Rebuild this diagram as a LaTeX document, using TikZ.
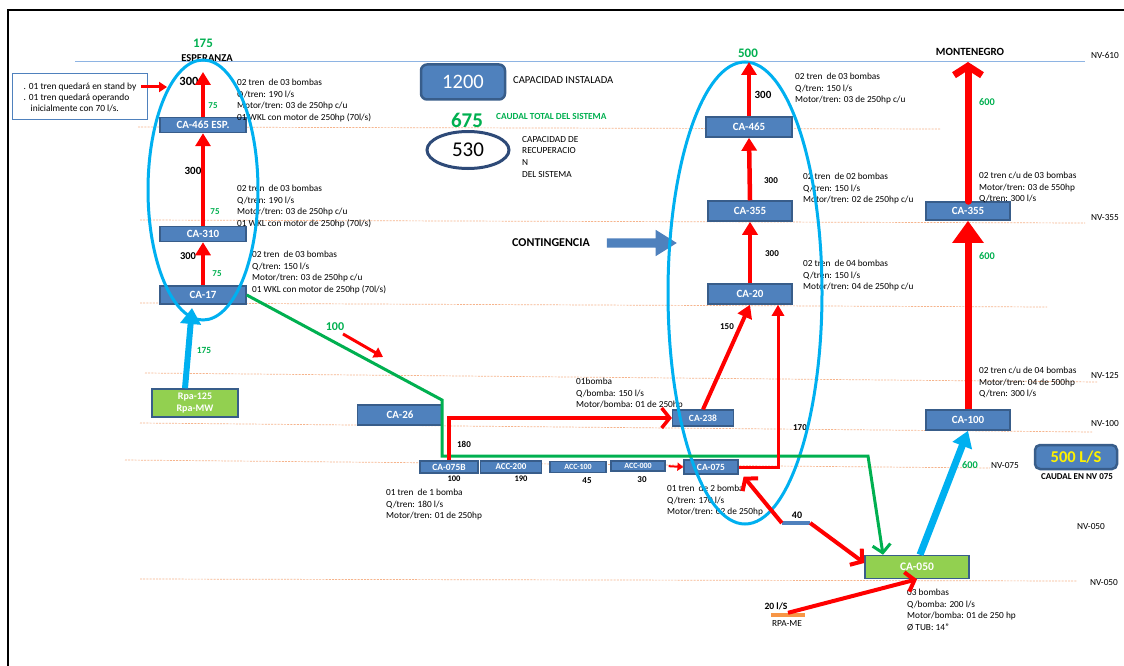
\documentclass[tikz,border=0pt]{standalone}
\usepackage{fontspec}
\setmainfont{Carlito}
\usepackage{xcolor}
\usepackage{tikz}
\usetikzlibrary{arrows.meta, positioning, shapes.geometric, shapes.arrows}

\definecolor{cabox}{HTML}{4F81BD}
\definecolor{caedge}{HTML}{385D8A}
\definecolor{ringcyan}{HTML}{00B0F0}
\definecolor{qgreen}{HTML}{00B050}
\definecolor{limebox}{HTML}{92D050}
\definecolor{lvlorange}{HTML}{F6B48C}
\definecolor{nvblue}{HTML}{8EB4E3}
\definecolor{navyring}{HTML}{2E4A78}
\definecolor{rpaorange}{HTML}{F79646}

\begin{document}
\begin{tikzpicture}[x=1pt, y=-1pt,
    sta/.style={draw=caedge, fill=cabox, line width=1.5pt, text=white,
      font=\bfseries\fontsize{11}{12}\selectfont, inner sep=0pt,
      minimum width=86pt, minimum height=16pt},
    smallsta/.style={sta, line width=1.2pt, font=\bfseries\fontsize{9.5}{10}\selectfont},
    info/.style={anchor=north west, align=left, inner sep=0pt,
      font=\fontsize{9.3}{11.5}\selectfont},
    qty/.style={inner sep=0pt, font=\bfseries\fontsize{9}{10}\selectfont},
    gqty/.style={inner sep=0pt, text=qgreen, font=\bfseries\fontsize{9}{10}\selectfont},
    nv/.style={inner sep=0pt, font=\fontsize{9.3}{10}\selectfont},
    lvl/.style={lvlorange, line width=0.7pt, dash pattern=on 2pt off 1.2pt},
    pipe/.style={red, line width=4.5pt, -{Triangle[length=13pt,width=15pt]}},
    barb/.style={red, line width=4pt, -{Straight Barb[length=8pt,width=20pt]}},
    ring/.style={draw=ringcyan, line width=3pt, ellipse, inner sep=0pt},
    lift/.style={ringcyan, line width=6pt, -{Triangle[length=16pt,width=20pt]}}
  ]
  \useasboundingbox (0,0) rectangle (1124,666);
  \fill[white] (0,0) rectangle (1124,666);
  % frame
  \draw[black, line width=2pt] (8,666) -- (8,10) -- (1124,10);

  % levels
  \draw[nvblue, line width=1pt] (75,62) -- (1085,62);
  \draw[lvl] (138,127) -- (940,129);
  \draw[lvl] (140,220) -- (1085,223);
  \draw[lvl] (140,303) -- (1047,307);
  \draw[lvl] (145,373) -- (1097,382);
  \draw[lvl] (140,423) -- (1092,432);
  \draw[lvl] (125,460) -- (990,468);
  \draw[lvl] (140,579) -- (1077,581);
  \node[nv] (nv610) at (1105,55) {NV-610};
  \node[nv] (nv355) at (1105,218) {NV-355};
  \node[nv] (nv125) at (1105,376) {NV-125};
  \node[nv] (nv100) at (1105,424) {NV-100};
  \node[nv] (nv075) at (1005,466) {NV-075};
  \node[nv] (nv050a) at (1091,527) {NV-050};
  \node[nv] (nv050b) at (1104,583) {NV-050};

  % Esperanza
  \node[text=qgreen, font=\bfseries\fontsize{13}{14}\selectfont] (q175) at (203,43) {175};
  \node[font=\bfseries\fontsize{10.5}{12}\selectfont, inner sep=0pt] (esp) at (207,58) {ESPERANZA};
  \node[sta, minimum height=15pt] (ca465e) at (203,125) {CA-465 ESP.};
  \node[sta, minimum height=15pt] (ca310) at (203,234) {CA-310};
  \node[sta, minimum height=18pt] (ca17) at (203,295) {CA-17};
  \node[sta, fill=limebox, minimum height=28pt, align=center,
    font=\bfseries\fontsize{10}{12}\selectfont] (rpa) at (195,403) {Rpa-125\\Rpa-MW};
  \coordinate (esptop) at (203,72);
  \coordinate (espbot) at (192,308);

  \node[draw=cabox, line width=1pt, minimum width=135pt, minimum height=46pt,
    align=left, inner sep=0pt, font=\fontsize{9.4}{11}\selectfont] (standby) at (80,97)
    {. 01 tren quedará en stand by\\ . 01 tren quedará operando\\ \hspace*{7pt}inicialmente con 70 l/s.};
  \coordinate (sbtip) at (167,87);

  \node[info] (t465e) at (237,79) {02 tren\ \ de 03 bombas\\Q/tren: 190 l/s\\Motor/tren: 03 de 250hp c/u\\01 WKL con motor de 250hp (70l/s)};
  \node[info] (t310) at (237,185) {02 tren\ \ de 03 bombas\\Q/tren: 190 l/s\\Motor/tren: 03 de 250hp c/u\\01 WKL con motor de 250hp (70l/s)};
  \node[info] (t17) at (252,251) {02 tren\ \ de 03 bombas\\Q/tren: 150 l/s\\Motor/tren: 03 de 250hp c/u\\01 WKL con motor de 250hp (70l/s)};

  \node[qty, font=\bfseries\fontsize{12.5}{14}\selectfont] (l300a) at (189,81) {300};
  \node[gqty] (l75a) at (213,106) {75};
  \node[qty, font=\bfseries\fontsize{11}{12}\selectfont] (l300b) at (193,171) {300};
  \node[gqty] (l75b) at (215,212) {75};
  \node[qty, font=\bfseries\fontsize{10.5}{12}\selectfont] (l300c) at (188,256) {300};
  \node[gqty] (l75c) at (217,274) {75};
  \node[gqty, font=\bfseries\fontsize{9.4}{10}\selectfont] (l175) at (204,350) {175};

  % legend
  \node[draw=caedge, fill=cabox, line width=2.5pt, rounded corners=6pt, minimum width=84pt,
    minimum height=35pt, text=white, font=\fontsize{20.5}{22}\selectfont] (inst) at (463,82) {1200};
  \node[nv, anchor=west, font=\fontsize{10.6}{12}\selectfont] (tinst) at (513,80) {CAPACIDAD INSTALADA};
  \node[text=qgreen, inner sep=0pt, font=\bfseries\fontsize{21}{22}\selectfont] (q675) at (467,120) {675};
  \node[text=qgreen, anchor=west, inner sep=0pt, font=\bfseries\fontsize{9.3}{10}\selectfont] (ttotal) at (496,116) {CAUDAL TOTAL DEL SISTEMA};
  \node[ellipse, draw=navyring, line width=3pt, minimum width=82pt, minimum height=37pt,
    font=\fontsize{21}{22}\selectfont] (recup) at (468,150) {530};
  \node[info, font=\fontsize{9.3}{11.7}\selectfont] (trecup) at (522,136) {CAPACIDAD DE\\RECUPERACIO\\N\\DEL SISTEMA};

  % middle column
  \node[text=qgreen, font=\bfseries\fontsize{13}{14}\selectfont] (q500) at (748,53) {500};
  \node[sta, minimum height=20pt] (ca465) at (749,127) {CA-465};
  \node[sta, minimum width=84pt, minimum height=20pt] (ca355m) at (750,211) {CA-355};
  \node[sta, minimum width=84pt, minimum height=20pt] (ca20) at (750,294) {CA-20};
  \node[smallsta, minimum width=61pt, minimum height=16pt] (ca238) at (703,418) {CA-238};
  \node[smallsta, minimum width=54pt, minimum height=14pt] (ca075) at (711,467) {CA-075};
  \coordinate (midtop) at (749,62);
  \node[info] (tm465) at (795,73) {02 tren\ \ de 03 bombas\\Q/tren: 150 l/s\\Motor/tren: 03 de 250hp c/u};
  \node[info] (tm355) at (803,173) {02 tren\ \ de 02 bombas\\Q/tren: 150 l/s\\Motor/tren: 02 de 250hp c/u};
  \node[info] (tm20) at (803,260) {02 tren\ \ de 04 bombas\\Q/tren: 150 l/s\\Motor/tren: 04 de 250hp c/u};
  \node[info] (t238) at (576,378) {01bomba\\Q/bomba: 150 l/s\\Motor/bomba: 01 de 250hp};
  \node[info] (t075) at (667,485) {01 tren\ \ de 2 bomba\\Q/tren: 170 l/s\\Motor/tren: 02 de 250hp};
  \node[qty, font=\bfseries\fontsize{11}{12}\selectfont] (l300d) at (763,95) {300};
  \node[qty] (l300e) at (771,181) {300};
  \node[qty] (l300f) at (772,254) {300};
  \node[qty] (l150) at (727,327) {150};
  \node[qty] (l170) at (800,428) {170};

  \node[font=\bfseries\fontsize{12}{14}\selectfont, inner sep=0pt] (cont) at (551,243) {CONTINGENCIA};
  \node[single arrow, fill=cabox, inner sep=0pt, inner ysep=4.5pt, minimum height=70pt,
    single arrow head extend=8.5pt, single arrow tip angle=64] (contarr) at (638,243) {};

  % lower line
  \node[sta, minimum width=85pt, minimum height=20pt] (ca26) at (400,415) {CA-26};
  \node[smallsta, minimum width=58pt, minimum height=12pt] (ca075b) at (449,467) {CA-075B};
  \node[smallsta, minimum width=61pt, minimum height=12pt, font=\bfseries\fontsize{9}{10}\selectfont] (acc200) at (511,467) {ACC-200};
  \node[smallsta, minimum width=56pt, minimum height=11pt, font=\bfseries\fontsize{8}{9}\selectfont] (acc100) at (578,467) {ACC-100};
  \node[smallsta, minimum width=54pt, minimum height=10pt, font=\bfseries\fontsize{8}{9}\selectfont] (acc000) at (638,466) {ACC-000};
  \node[qty, font=\bfseries\fontsize{8.5}{9}\selectfont] (l100b) at (454,479) {100};
  \node[qty, font=\bfseries\fontsize{8.5}{9}\selectfont] (l190) at (521,479) {190};
  \node[qty] (l45) at (587,481) {45};
  \node[qty] (l30) at (642,480) {30};
  \node[qty] (l180) at (464,444) {180};
  \node[info] (t075b) at (386,489) {01 tren\ \ de 1 bomba\\Q/tren: 180 l/s\\Motor/tren: 01 de 250hp};
  \node[text=qgreen, inner sep=0pt, font=\bfseries\fontsize{12}{14}\selectfont] (q100) at (335,327) {100};
  \coordinate (dir1) at (343,334);
  \coordinate (dir2) at (383,357);
  \coordinate (gb1) at (442,400);
  \coordinate (gb2) at (442,456);
  \coordinate (gb3) at (868,456);

  % Montenegro
  \node[font=\bfseries\fontsize{11}{12}\selectfont, inner sep=0pt] (mont) at (970,52) {MONTENEGRO};
  \coordinate (montop) at (968,62);
  \node[sta, minimum width=84pt, minimum height=18pt] (ca355r) at (968,211) {CA-355};
  \node[sta, minimum width=84pt, minimum height=20pt] (ca100) at (968,420) {CA-100};
  \node[sta, fill=limebox, minimum width=104pt, minimum height=23pt,
    font=\bfseries\fontsize{11.5}{12}\selectfont] (ca050) at (917,567) {CA-050};
  \node[info] (tr355) at (979,172) {02 tren c/u de 03 bombas\\Motor/tren: 03 de 550hp\\Q/tren: 300 l/s};
  \node[info] (tr100) at (979,367) {02 tren c/u de 04 bombas\\Motor/tren: 04 de 500hp\\Q/tren: 300 l/s};
  \node[info] (t050) at (907,589) {03 bombas\\Q/bomba: 200 l/s\\Motor/bomba: 01 de 250 hp\\Ø TUB: 14”};
  \node[gqty, font=\bfseries\fontsize{10.3}{12}\selectfont] (l600a) at (987,102) {600};
  \node[gqty, font=\bfseries\fontsize{10.3}{12}\selectfont] (l600b) at (987,256) {600};
  \node[gqty, font=\bfseries\fontsize{10.3}{12}\selectfont] (l600c) at (970,465) {600};
  \node[draw=caedge, fill=cabox, line width=2.5pt, rounded corners=5pt, minimum width=82pt,
    minimum height=24pt, text=yellow, font=\bfseries\fontsize{16.5}{18}\selectfont] (ls500) at (1076,457) {500 L/S};
  \node[inner sep=0pt, font=\bfseries\fontsize{9}{10}\selectfont] (tls500) at (1077,477) {CAUDAL EN NV 075};

  \node[fill=cabox, minimum width=28pt, minimum height=3.5pt, inner sep=0pt] (bar40) at (796,523) {};
  \node[qty, font=\bfseries\fontsize{10}{11}\selectfont] (l40) at (797,515) {40};
  \node[fill=rpaorange, minimum width=34pt, minimum height=4pt, inner sep=0pt] (rpame) at (788,615) {};
  \node[nv] (trpame) at (787,624) {RPA-ME};
  \node[qty, font=\bfseries\fontsize{9.6}{10}\selectfont] (l20) at (776,606) {20 l/S};

  % rings
  \node[ring, minimum width=110pt, minimum height=260pt] (espring) at (203,190) {};
  \node[ring, minimum width=154pt, minimum height=462pt] (midring) at (745,293) {};

  % flows
  \draw[red, line width=3pt, -{Triangle[length=8pt,width=10pt]}] ([xshift=-7pt, yshift=10pt]standby.east) -- (sbtip);
  \draw[pipe] (ca17.north) -- (ca310.south);
  \draw[pipe] (ca310.north) -- (ca465e.south);
  \draw[pipe] (ca465e.north) -- (esptop);
  \draw[lift] ([xshift=-10pt]rpa.north) -- (espbot);
  \draw[qgreen, line width=3pt, -{Straight Barb[length=8pt,width=18pt]}]
    (ca17.east) -- (gb1) -- (gb2) -- (gb3) -- ([xshift=-34pt]ca050.north);
  \draw[red, line width=3pt, -{Triangle[length=9pt,width=11pt]}] (dir1) -- (dir2);
  \draw[barb, line width=3.5pt] (ca075b.north) |- (ca238.west);
  \draw[red, line width=2pt, shorten <=3pt, -{Triangle[length=6pt,width=8pt]}] (acc000.east) -- (ca075.west);
  \draw[pipe, line width=4pt] (ca238.north) -- (ca20.south);
  \draw[pipe, line width=3pt, -{Triangle[length=11pt,width=12pt]}] (ca075.east) -| ([xshift=28pt]ca20.south);
  \draw[pipe] (ca20.north) -- (ca355m.south);
  \draw[pipe] (ca355m.north) -- (ca465.south);
  \draw[pipe] (ca465.north) -- (midtop);
  \draw[barb] (bar40.west) -- ([xshift=5pt, yshift=-2pt]ca075.south east);
  \draw[barb] (bar40.east) -- ([yshift=4pt]ca050.west);
  \draw[barb] (rpame.north) -- (ca050.south);
  \draw[lift, line width=7pt] ([xshift=3pt]ca050.north) -- (ca100.south);
  \draw[red, line width=7pt, -{Triangle[length=22pt,width=30pt]}] (ca100.north) -- (ca355r.south);
  \draw[red, line width=7pt, line cap=round, -{Straight Barb[length=9pt,width=28pt]}] (ca355r.north) -- (montop);
\end{tikzpicture}
\end{document}
